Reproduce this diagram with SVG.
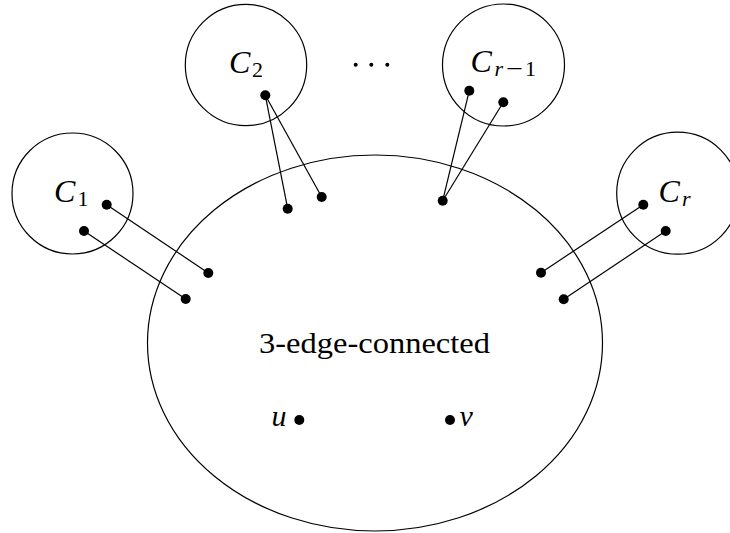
<svg xmlns="http://www.w3.org/2000/svg" width="730" height="533" viewBox="0 0 730 533">
  <style>
    .ring { fill: none; stroke: #000; stroke-width: 1.2; }
    .edge { stroke: #000; stroke-width: 1.2; fill: none; }
    .pt { fill: #000; }
    .lbl { font-family: "Liberation Serif", "DejaVu Serif", serif; font-style: italic; font-size: 32px; fill: #000; }
    .var { font-family: "Liberation Serif", "DejaVu Serif", serif; font-style: italic; font-size: 30px; fill: #000; }
    .sub { font-family: "Liberation Serif", "DejaVu Serif", serif; font-style: italic; font-size: 22px; fill: #000; }
    .subn { font-family: "Liberation Serif", "DejaVu Serif", serif; font-size: 22px; fill: #000; }
    .body { font-family: "Liberation Serif", "DejaVu Serif", serif; font-size: 30px; fill: #000; }
  </style>
  <rect width="730" height="533" fill="#fff"/>

  <g id="core">
    <ellipse class="ring" cx="375" cy="343" rx="227.5" ry="188"/>
    <text class="body" x="259" y="353" textLength="231" lengthAdjust="spacingAndGlyphs">3-edge-connected</text>
    <circle class="pt" cx="299.3" cy="420" r="5"/>
    <text class="var" x="271.5" y="426">u</text>
    <circle class="pt" cx="450" cy="420" r="5"/>
    <text class="var" x="459.5" y="426">v</text>
    <circle class="pt" cx="208.3" cy="273" r="5"/>
    <circle class="pt" cx="185.7" cy="299" r="5"/>
    <circle class="pt" cx="287.7" cy="208.7" r="5"/>
    <circle class="pt" cx="321.7" cy="197" r="5"/>
    <circle class="pt" cx="442.7" cy="200.7" r="5"/>
    <circle class="pt" cx="541" cy="272.7" r="5"/>
    <circle class="pt" cx="563.7" cy="299.3" r="5"/>
  </g>

  <g id="c1">
    <circle class="ring" cx="72.5" cy="193.5" r="60.5"/>
    <text class="lbl" x="54" y="201.7">C</text>
    <text class="subn" x="77.5" y="206">1</text>
    <circle class="pt" cx="106.7" cy="204.7" r="5"/>
    <circle class="pt" cx="84" cy="231" r="5"/>
  </g>

  <g id="c2">
    <circle class="ring" cx="246" cy="65" r="60.7"/>
    <text class="lbl" x="229" y="72.7">C</text>
    <text class="subn" x="252" y="77">2</text>
    <circle class="pt" cx="265.3" cy="95.3" r="5"/>
  </g>

  <g id="dots">
    <circle class="pt" cx="355.7" cy="64.7" r="2"/>
    <circle class="pt" cx="371.3" cy="64.7" r="2"/>
    <circle class="pt" cx="387.3" cy="64.7" r="2"/>
  </g>

  <g id="cr1">
    <circle class="ring" cx="503.5" cy="65" r="61"/>
    <text class="lbl" x="470.5" y="71.7">C</text>
    <text class="sub" x="494.5" y="75.5">r</text>
    <text class="subn" x="506" y="75.5" textLength="17" lengthAdjust="spacingAndGlyphs">−</text>
    <text class="subn" x="525" y="75.5">1</text>
    <circle class="pt" cx="469.3" cy="90.7" r="5"/>
    <circle class="pt" cx="503.3" cy="102.3" r="5"/>
  </g>

  <g id="cr">
    <circle class="ring" cx="677.7" cy="193.2" r="61"/>
    <text class="lbl" x="658.5" y="201.7">C</text>
    <text class="sub" x="682" y="206">r</text>
    <circle class="pt" cx="643.3" cy="204.7" r="5"/>
    <circle class="pt" cx="665.7" cy="231" r="5"/>
  </g>

  <g id="connectors">
    <line class="edge" x1="106.7" y1="204.7" x2="208.3" y2="273"/>
    <line class="edge" x1="84" y1="231" x2="185.7" y2="299"/>
    <line class="edge" x1="265.3" y1="95.3" x2="287.7" y2="208.7"/>
    <line class="edge" x1="265.3" y1="95.3" x2="321.7" y2="197"/>
    <line class="edge" x1="469.3" y1="90.7" x2="442.7" y2="200.7"/>
    <line class="edge" x1="503.3" y1="102.3" x2="442.7" y2="200.7"/>
    <line class="edge" x1="643.3" y1="204.7" x2="541" y2="272.7"/>
    <line class="edge" x1="665.7" y1="231" x2="563.7" y2="299.3"/>
  </g>
</svg>
